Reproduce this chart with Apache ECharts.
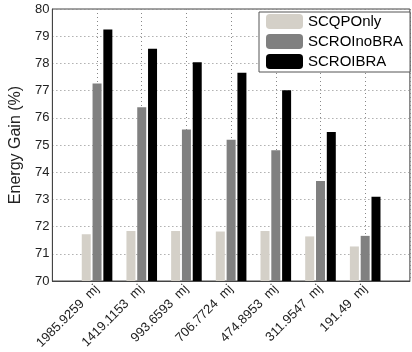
<!DOCTYPE html>
<html>
<head>
<meta charset="utf-8">
<script src="https://cdn.jsdelivr.net/npm/echarts@6/dist/echarts.min.js"></script>
<style>html,body{margin:0;padding:0;background:#fff}#c{width:412px;height:352px}</style>
</head>
<body>
<div id="c"></div>
<script>
var categories = ['1985.9259  mj', '1419.1153  mj', '993.6593  mj', '706.7724  mj', '474.8953  mj', '311.9547  mj', '191.49  mj'];
var scqpOnly   = [71.72, 71.84, 71.84, 71.82, 71.84, 71.64, 71.27];
var scroNoBra  = [77.26, 76.39, 75.57, 75.19, 74.81, 73.68, 71.66];
var scroBra    = [79.25, 78.54, 78.04, 77.66, 77.01, 75.48, 73.10];
var yTicks = { min: 70, max: 80, interval: 1 };

function pad(a) { return [null].concat(a, [null]); }
var paddedCats = [''].concat(categories, ['']);

var chart = echarts.init(document.getElementById('c'), null, { renderer: 'canvas' });
var font = 'Liberation Sans, Arial, sans-serif';
var bw = 9;
chart.setOption({
  animation: false,
  backgroundColor: '#fff',
  grid: { left: 44, top: 9, right: 1, bottom: 66, show: true, borderColor: '#444', borderWidth: 1, backgroundColor: 'transparent' },
  legend: {
    left: 259, top: 12, orient: 'vertical',
    width: 149,
    itemWidth: 37, itemHeight: 15, itemGap: 5,
    padding: [2, 7, 3, 7],
    borderColor: '#555', borderWidth: 1, backgroundColor: '#fff',
    textStyle: { fontFamily: font, fontSize: 15, color: '#000' },
    data: ['SCQPOnly', 'SCROInoBRA', 'SCROIBRA']
  },
  xAxis: {
    type: 'category', data: paddedCats, boundaryGap: false,
    axisLine: { lineStyle: { color: '#444' } },
    axisTick: { show: false },
    axisLabel: { rotate: 45, interval: 0, margin: 6, fontFamily: font, fontSize: 13, color: '#222' },
    splitLine: { show: true, lineStyle: { color: '#888', type: [1, 3], width: 1 } }
  },
  yAxis: {
    type: 'value', min: yTicks.min, max: yTicks.max, interval: yTicks.interval,
    name: 'Energy Gain (%)', nameLocation: 'middle', nameGap: 25,
    nameTextStyle: { fontFamily: font, fontSize: 16, color: '#222' },
    axisLine: { show: true, lineStyle: { color: '#444' } },
    axisTick: { show: false },
    axisLabel: { margin: 3, fontFamily: font, fontSize: 13, color: '#222' },
    splitLine: { show: true, lineStyle: { color: '#888', type: [1, 3], width: 1 } }
  },
  series: [
    { name: 'SCQPOnly', type: 'bar', data: pad(scqpOnly), barWidth: bw, barGap: '20%', itemStyle: { color: '#d4d0c8' }, z: 3 },
    { name: 'SCROInoBRA', type: 'bar', data: pad(scroNoBra), barWidth: bw, barGap: '20%', itemStyle: { color: '#808080' }, z: 3 },
    { name: 'SCROIBRA', type: 'bar', data: pad(scroBra), barWidth: bw, barGap: '20%', itemStyle: { color: '#000000' }, z: 3 }
  ]
});
</script>
</body>
</html>
